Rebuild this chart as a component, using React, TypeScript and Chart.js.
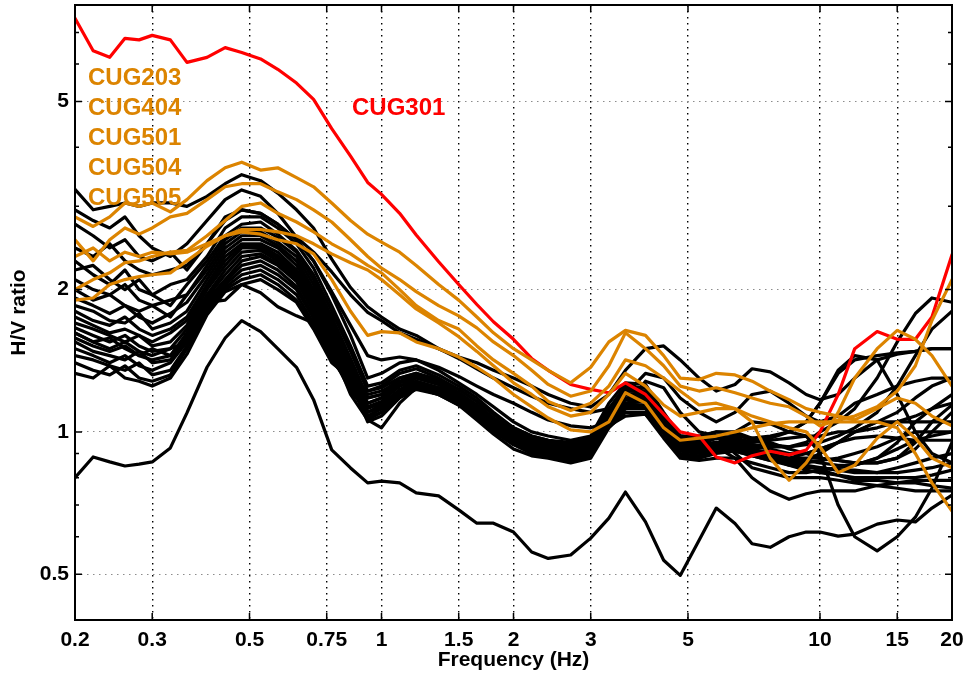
import React, { useEffect, useRef } from 'react';
import { Chart, registerables } from 'chart.js';

Chart.register(...registerables);

const FONT = '"Liberation Sans", Arial, Helvetica, sans-serif';
const ORANGE = '#dc8400';
const RED = '#ff0000';
const BLACK = '#000000';

// Frequency samples shared by every H/V curve (Hz)
const FREQ_HZ = [
  0.2, 0.22, 0.24, 0.26, 0.28, 0.3, 0.33, 0.36, 0.4, 0.44, 0.48, 0.53, 0.58, 0.64, 0.7, 0.77, 0.85,
  0.93, 1.0, 1.1, 1.2, 1.35, 1.5, 1.65, 1.8, 2.0, 2.2, 2.4, 2.7, 3.0, 3.3, 3.6, 4.0, 4.4, 4.8, 5.3,
  5.8, 6.4, 7.0, 7.7, 8.5, 9.3,
  10, 11, 12, 13.5, 15, 16.5, 18, 20,
];

const X_TICKS = [0.2, 0.3, 0.5, 0.75, 1, 1.5, 2, 3, 5, 10, 15, 20];
const Y_TICKS = [0.5, 1, 2, 5];
const Y_MINOR = [0.4, 0.6, 0.7, 0.8, 0.9, 3, 4, 6, 7, 8];

// Highlighted station: CUG301
const CUG301 = [
  7.5, 6.4, 6.2, 6.8, 6.75, 6.9, 6.75, 6.05, 6.2, 6.5, 6.35, 6.15, 5.85, 5.47, 5.05, 4.38, 3.83,
  3.37, 3.18, 2.9, 2.61, 2.29, 2.05, 1.86, 1.71, 1.57, 1.43, 1.35, 1.26, 1.23, 1.21, 1.27, 1.2, 1.09, 1.0, 0.98, 0.885, 0.86, 0.89, 0.91, 0.894, 0.915,
  1.0, 1.2, 1.5, 1.63, 1.57, 1.57, 1.75, 2.37,
];

// Highlighted stations drawn in orange
const CUG203 = [
  2.85, 2.72, 2.85, 3.05, 3.0, 3.05, 2.92, 3.1, 3.4, 3.62, 3.72, 3.58, 3.62, 3.45, 3.3, 3.05, 2.8,
  2.62, 2.52, 2.4, 2.25, 2.05, 1.9, 1.75, 1.62, 1.5, 1.42, 1.35, 1.27, 1.37, 1.55, 1.64, 1.6, 1.45, 1.3, 1.29, 1.33, 1.32, 1.28, 1.22, 1.17, 1.12,
  1.1, 1.08, 1.06, 1.12, 1.18, 1.15, 1.08, 1.03,
];
const CUG404 = [
  2.55, 2.3, 2.55, 2.7, 2.62, 2.7, 2.85, 2.9, 3.1, 3.3, 3.35, 3.35, 3.22, 3.1, 2.95, 2.78, 2.55,
  2.35, 2.22, 2.1, 1.98, 1.85, 1.76, 1.66, 1.55, 1.45, 1.35, 1.26, 1.19, 1.22, 1.38, 1.62, 1.5, 1.38, 1.25, 1.22, 1.24, 1.21, 1.18, 1.15, 1.13, 1.08,
  1.03, 1.06, 1.08, 1.13, 1.22, 1.38, 1.72, 2.1,
];
const CUG501 = [
  2.0, 2.1, 2.17, 2.28, 2.3, 2.35, 2.4, 2.42, 2.6, 2.8, 3.0, 3.05, 2.9, 2.78, 2.65, 2.5, 2.38,
  2.25, 2.17, 2.0, 1.85, 1.72, 1.65, 1.52, 1.42, 1.33, 1.25, 1.16, 1.11, 1.15, 1.25, 1.42, 1.38, 1.3, 1.22, 1.14, 1.15, 1.12, 1.05, 0.88, 0.79, 0.86,
  0.95, 1.1, 1.3, 1.5, 1.64, 1.57, 1.45, 1.25,
];
const CUG504 = [
  1.9, 1.92, 2.05, 2.1, 2.13, 2.15, 2.17, 2.3, 2.47, 2.6, 2.68, 2.68, 2.65, 2.6, 2.5, 2.38, 2.28,
  2.2, 2.1, 1.95, 1.82, 1.7, 1.59, 1.48, 1.38, 1.27, 1.2, 1.13, 1.08, 1.1, 1.2, 1.33, 1.25, 1.14, 1.08, 1.1, 1.12, 1.12, 1.08, 1.05, 1.02, 1.0,
  0.93, 0.82, 0.85, 0.97, 1.05, 0.97, 0.88, 0.84,
];
const CUG505 = [
  2.35, 2.45, 2.3, 2.4, 2.35, 2.4, 2.38, 2.4, 2.5, 2.6, 2.65, 2.62, 2.55, 2.5, 2.38, 2.1, 1.8,
  1.6, 1.63, 1.62, 1.55, 1.5, 1.44, 1.37, 1.3, 1.2, 1.13, 1.07, 1.01, 1.0, 1.05, 1.21, 1.15, 1.02, 0.96, 0.97, 0.98, 1.0, 1.02, 1.04, 1.05, 1.05,
  1.05, 1.05, 1.05, 1.05, 1.02, 0.9, 0.78, 0.68,
];

// Remaining stations (black)
const SITE_A = [
  3.26, 2.95, 3.0, 3.05, 3.0, 3.05, 3.05, 3.0, 3.15, 3.35, 3.5, 3.4, 3.2, 2.95, 2.7, 2.32, 2.02,
  1.84, 1.75, 1.65, 1.6, 1.5, 1.44, 1.4, 1.35, 1.3, 1.25, 1.2, 1.15, 1.13, 1.2, 1.35, 1.5, 1.52, 1.42, 1.3, 1.22, 1.26, 1.36, 1.34, 1.27, 1.2,
  1.17, 1.2, 1.3, 1.42, 1.46, 1.48, 1.5, 1.5,
];
const SITE_B = [
  2.95, 2.8, 2.7, 2.85, 2.6, 2.45, 2.35, 2.5, 2.8, 3.1, 3.25, 3.15, 2.9, 2.58, 2.4, 2.18, 1.95,
  1.79, 1.72, 1.62, 1.57, 1.5, 1.43, 1.36, 1.3, 1.24, 1.19, 1.15, 1.12, 1.1, 1.12, 1.2, 1.33, 1.3, 1.18, 1.1, 1.05, 1.1, 1.2, 1.22, 1.15, 1.08,
  1.05, 1.08, 1.15, 1.2, 1.25, 1.28, 1.3, 1.3,
];
const SITE_C = [
  2.75, 2.6, 2.45, 2.55, 2.35, 2.3, 2.4, 2.2, 2.5, 2.8, 2.95, 2.9, 2.75, 2.55, 2.3, 1.98, 1.68,
  1.45, 1.42, 1.44, 1.42, 1.37, 1.31, 1.25, 1.2, 1.15, 1.1, 1.06, 1.03, 1.02, 1.05, 1.13, 1.28, 1.24, 1.1, 1.0, 0.98, 1.0, 1.05, 1.04, 1.0, 0.98,
  0.98, 1.0, 1.0, 1.02, 1.05, 1.08, 1.12, 1.15,
];
const SITE_D = [
  2.45, 2.35, 2.5, 2.3, 2.2, 2.15, 2.2, 2.25, 2.5, 2.85, 2.95, 2.9, 2.75, 2.55, 2.3, 1.95, 1.6,
  1.3, 1.33, 1.4, 1.42, 1.35, 1.27, 1.2, 1.13, 1.05, 1.0, 0.98, 0.96, 0.98, 1.15, 1.27, 1.26, 1.1, 0.98, 0.97, 1.0, 0.99, 0.96, 0.94, 0.93, 0.95,
  1.0, 1.05, 1.12, 1.3, 1.55, 1.78, 1.92, 1.88,
];
const SITE_E = [
  2.3, 2.15, 2.05, 2.2, 2.0, 1.95, 2.05, 2.1, 2.35, 2.7, 2.85, 2.85, 2.7, 2.5, 2.22, 1.85, 1.52,
  1.25, 1.27, 1.35, 1.38, 1.32, 1.25, 1.18, 1.1, 1.02, 0.98, 0.96, 0.95, 0.97, 1.12, 1.22, 1.24, 1.09, 0.97, 0.95, 0.97, 0.96, 0.94, 0.93, 0.93, 0.94,
  0.95, 0.98, 1.02, 1.1, 1.25, 1.45, 1.65, 1.8,
];
const SITE_F = [
  2.2, 2.25, 2.1, 2.0, 2.1, 1.95, 1.85, 2.05, 2.3, 2.6, 2.75, 2.78, 2.62, 2.42, 2.15, 1.8, 1.48,
  1.22, 1.25, 1.33, 1.36, 1.3, 1.23, 1.16, 1.09, 1.01, 0.97, 0.95, 0.94, 0.96, 1.11, 1.2, 1.21, 1.07, 0.96, 0.94, 0.97, 0.98, 0.97, 0.98, 1.0, 1.05,
  1.15, 1.33, 1.42, 1.45, 1.47, 1.48, 1.5, 1.5,
];
const SITE_G = [
  2.1, 2.0, 1.95, 2.05, 1.9, 1.85, 1.9, 1.95, 2.25, 2.55, 2.7, 2.7, 2.58, 2.4, 2.1, 1.75, 1.43,
  1.18, 1.2, 1.3, 1.33, 1.28, 1.21, 1.14, 1.07, 1.0, 0.96, 0.94, 0.93, 0.95, 1.1, 1.18, 1.19, 1.06, 0.95, 0.95, 0.98, 0.97, 0.95, 0.97, 1.0, 1.05,
  1.15, 1.35, 1.45, 1.42, 1.2, 1.0, 0.9, 0.86,
];
const SITE_H = [
  2.0, 1.9, 1.95, 1.85, 1.8, 1.85, 1.75, 1.95, 2.2, 2.5, 2.65, 2.65, 2.52, 2.35, 2.05, 1.72, 1.4,
  1.15, 1.18, 1.27, 1.31, 1.27, 1.2, 1.13, 1.06, 0.99, 0.95, 0.93, 0.92, 0.94, 1.09, 1.17, 1.17, 1.04, 0.94, 0.93, 0.95, 0.96, 0.95, 0.96, 0.97, 0.98,
  0.9, 0.7, 0.6, 0.56, 0.6, 0.66, 0.76, 0.95,
];
const SITE_I = [
  1.92, 1.85, 1.78, 1.85, 1.75, 1.7, 1.78, 1.88, 2.15, 2.45, 2.6, 2.6, 2.48, 2.3, 2.0, 1.68, 1.38,
  1.13, 1.16, 1.25, 1.3, 1.26, 1.19, 1.12, 1.05, 0.98, 0.94, 0.92, 0.91, 0.93, 1.07, 1.15, 1.16, 1.03, 0.93, 0.92, 0.94, 0.95, 0.93, 0.92, 0.9, 0.9,
  0.92, 0.95, 1.0, 1.05, 1.1, 1.18, 1.25, 1.3,
];
const SITE_J = [
  1.85, 1.8, 1.72, 1.7, 1.78, 1.65, 1.7, 1.8, 2.1, 2.4, 2.55, 2.55, 2.45, 2.25, 1.98, 1.65, 1.35,
  1.1, 1.14, 1.23, 1.28, 1.24, 1.18, 1.11, 1.04, 0.97, 0.93, 0.91, 0.9, 0.92, 1.06, 1.13, 1.14, 1.02, 0.92, 0.91, 0.93, 0.94, 0.92, 0.9, 0.88, 0.87,
  0.86, 0.85, 0.85, 0.88, 0.95, 1.05, 1.12, 1.2,
];
const SITE_K = [
  1.8, 1.72, 1.68, 1.75, 1.65, 1.6, 1.65, 1.75, 2.05, 2.35, 2.5, 2.5, 2.4, 2.2, 1.95, 1.62, 1.32,
  1.08, 1.12, 1.22, 1.27, 1.23, 1.17, 1.1, 1.03, 0.96, 0.92, 0.9, 0.89, 0.91, 1.05, 1.12, 1.12, 1.01, 0.91, 0.9, 0.92, 0.93, 0.91, 0.89, 0.88, 0.88,
  0.88, 0.87, 0.86, 0.86, 0.88, 0.95, 1.05, 1.14,
];
const SITE_L = [
  1.75, 1.68, 1.62, 1.65, 1.6, 1.55, 1.62, 1.72, 2.03, 2.3, 2.48, 2.48, 2.36, 2.18, 1.92, 1.58, 1.3,
  1.06, 1.1, 1.2, 1.25, 1.22, 1.16, 1.09, 1.02, 0.95, 0.91, 0.9, 0.88, 0.9, 1.04, 1.1, 1.1, 1.0, 0.9, 0.89, 0.91, 0.92, 0.9, 0.88, 0.87, 0.87,
  0.9, 0.95, 1.0, 1.05, 1.05, 1.05, 1.05, 1.05,
];
const SITE_M = [
  1.7, 1.65, 1.6, 1.55, 1.6, 1.52, 1.55, 1.68, 2.0, 2.25, 2.45, 2.45, 2.33, 2.15, 1.88, 1.55, 1.28,
  1.05, 1.08, 1.18, 1.23, 1.2, 1.15, 1.08, 1.01, 0.94, 0.9, 0.89, 0.87, 0.89, 1.03, 1.08, 1.09, 0.99, 0.89, 0.88, 0.9, 0.91, 0.89, 0.87, 0.86, 0.86,
  0.87, 0.88, 0.9, 0.93, 0.97, 1.0, 1.0, 1.0,
];
const SITE_N = [
  1.66, 1.6, 1.55, 1.6, 1.52, 1.48, 1.5, 1.65, 1.95, 2.2, 2.4, 2.42, 2.3, 2.12, 1.85, 1.52, 1.26,
  1.07, 1.1, 1.19, 1.24, 1.21, 1.15, 1.08, 1.01, 0.95, 0.92, 0.9, 0.89, 0.9, 1.04, 1.12, 1.14, 1.02, 0.92, 0.93, 0.95, 0.93, 0.9, 0.89, 0.88, 0.9,
  0.92, 0.95, 0.97, 0.98, 0.97, 0.96, 0.96, 0.96,
];
const SITE_O = [
  1.62, 1.55, 1.58, 1.5, 1.45, 1.5, 1.45, 1.62, 1.93, 2.15, 2.35, 2.38, 2.27, 2.1, 1.82, 1.5, 1.25,
  1.08, 1.12, 1.2, 1.25, 1.21, 1.15, 1.08, 1.01, 0.95, 0.92, 0.9, 0.89, 0.91, 1.06, 1.15, 1.16, 1.04, 0.93, 0.92, 0.93, 0.92, 0.9, 0.88, 0.86, 0.85,
  0.84, 0.83, 0.82, 0.82, 0.84, 0.86, 0.88, 0.9,
];
const SITE_P = [
  1.58, 1.52, 1.48, 1.52, 1.45, 1.42, 1.45, 1.6, 1.9, 2.1, 2.3, 2.35, 2.25, 2.08, 1.8, 1.48, 1.22,
  1.1, 1.13, 1.2, 1.24, 1.2, 1.14, 1.07, 1.0, 0.94, 0.91, 0.89, 0.88, 0.9, 1.05, 1.14, 1.14, 1.02, 0.92, 0.91, 0.92, 0.91, 0.89, 0.87, 0.85, 0.84,
  0.84, 0.83, 0.83, 0.82, 0.82, 0.83, 0.84, 0.86,
];
const SITE_Q = [
  1.55, 1.48, 1.45, 1.42, 1.48, 1.4, 1.42, 1.58, 1.87, 2.08, 2.25, 2.3, 2.2, 2.03, 1.76, 1.45, 1.22,
  1.12, 1.15, 1.22, 1.26, 1.22, 1.16, 1.09, 1.02, 0.96, 0.93, 0.91, 0.9, 0.92, 1.07, 1.17, 1.18, 1.05, 0.94, 0.92, 0.93, 0.92, 0.9, 0.88, 0.85, 0.83,
  0.82, 0.81, 0.8, 0.8, 0.8, 0.8, 0.81, 0.83,
];
const SITE_R = [
  1.5, 1.45, 1.4, 1.45, 1.38, 1.35, 1.4, 1.55, 1.85, 2.05, 2.2, 2.25, 2.15, 2.0, 1.74, 1.44, 1.24,
  1.15, 1.18, 1.25, 1.28, 1.24, 1.18, 1.11, 1.04, 0.98, 0.94, 0.92, 0.91, 0.93, 1.08, 1.2, 1.2, 1.06, 0.95, 0.94, 0.95, 0.94, 0.92, 0.9, 0.87, 0.85,
  0.83, 0.81, 0.79, 0.79, 0.78, 0.79, 0.79, 0.79,
];
const SITE_S = [
  1.45, 1.42, 1.38, 1.35, 1.4, 1.32, 1.35, 1.52, 1.83, 2.02, 2.15, 2.2, 2.1, 1.95, 1.7, 1.42, 1.26,
  1.18, 1.2, 1.27, 1.3, 1.26, 1.2, 1.13, 1.06, 0.99, 0.95, 0.93, 0.92, 0.94, 1.09, 1.22, 1.22, 1.08, 0.97, 0.96, 0.93, 0.88, 0.8, 0.75, 0.72, 0.74,
  0.75, 0.75, 0.75, 0.77, 0.78, 0.78, 0.77, 0.76,
];
const SITE_T = [
  1.4, 1.35, 1.32, 1.38, 1.3, 1.28, 1.32, 1.5, 1.8, 2.0, 2.1, 2.15, 2.05, 1.9, 1.68, 1.42, 1.28,
  1.2, 1.22, 1.28, 1.32, 1.27, 1.21, 1.14, 1.07, 1.0, 0.96, 0.94, 0.93, 0.95, 1.1, 1.23, 1.24, 1.09, 0.98, 0.97, 0.98, 0.9, 0.84, 0.82, 0.8, 0.8,
  0.8, 0.79, 0.78, 0.77, 0.76, 0.75, 0.75, 0.75,
];
const SITE_U = [
  1.33, 1.3, 1.38, 1.3, 1.28, 1.25, 1.3, 1.46, 1.77, 1.98, 2.05, 2.1, 2.0, 1.88, 1.65, 1.4, 1.3,
  1.22, 1.24, 1.3, 1.33, 1.29, 1.23, 1.16, 1.09, 1.02, 0.98, 0.96, 0.94, 0.97, 1.12, 1.25, 1.24, 1.09, 0.98, 0.98, 1.0, 1.0, 0.97, 0.95, 0.92, 0.9,
  0.88, 0.87, 0.86, 0.86, 0.88, 0.92, 1.0, 1.1,
];
const SITE_V = [
  1.62, 1.55, 1.5, 1.55, 1.48, 1.45, 1.5, 1.55, 1.88, 1.9, 2.05, 1.97, 1.84, 1.76, 1.7, 1.5, 1.2,
  1.06, 1.02, 1.15, 1.24, 1.2, 1.14, 1.06, 0.99, 0.92, 0.89, 0.88, 0.86, 0.88, 1.02, 1.1, 1.09, 0.97, 0.88, 0.87, 0.88, 0.88, 0.86, 0.84, 0.82, 0.82,
  0.83, 0.84, 0.85, 0.88, 0.92, 0.96, 0.98, 1.0,
];
const SITE_W = [
  0.8, 0.885, 0.864, 0.847, 0.855, 0.864, 0.925, 1.097, 1.37, 1.58, 1.72, 1.63, 1.5, 1.37, 1.17, 0.916, 0.839,
  0.78, 0.787, 0.78, 0.743, 0.732, 0.684, 0.641, 0.641, 0.614, 0.557, 0.54, 0.549, 0.596, 0.657, 0.746, 0.645, 0.535, 0.497, 0.59, 0.69, 0.64, 0.58, 0.57, 0.6, 0.614,
  0.614, 0.602, 0.608, 0.638, 0.651, 0.645, 0.69, 0.735,
];

const ORANGE_NAMES = ['CUG203', 'CUG404', 'CUG501', 'CUG504', 'CUG505'];
const ORANGE_SITES = [CUG203, CUG404, CUG501, CUG504, CUG505];
const BLACK_SITES = [
  SITE_A, SITE_B, SITE_C, SITE_D, SITE_E, SITE_F, SITE_G, SITE_H, SITE_I, SITE_J, SITE_K, SITE_L,
  SITE_M, SITE_N, SITE_O, SITE_P, SITE_Q, SITE_R, SITE_S, SITE_T, SITE_U, SITE_V, SITE_W,
];

const toPoints = (vals: number[]) => FREQ_HZ.map((f, i) => ({ x: f, y: vals[i] }));

const lineStyle = (color: string) => ({
  borderColor: color,
  borderWidth: 3.2,
  pointRadius: 0,
  tension: 0,
  fill: false,
  borderJoinStyle: 'round' as const,
  borderCapStyle: 'round' as const,
});

// Axis frame with inward ticks, plus the station name annotations
const framePlugin = {
  id: 'hvFrame',
  afterDatasetsDraw(chart: any) {
    const { ctx, chartArea: a } = chart;
    const xs = chart.scales.x;
    const ys = chart.scales.y;
    ctx.save();
    ctx.strokeStyle = BLACK;
    ctx.lineWidth = 1.5;
    ctx.beginPath();
    for (const v of X_TICKS) {
      const px = xs.getPixelForValue(v);
      ctx.moveTo(px, a.bottom);
      ctx.lineTo(px, a.bottom - 7);
      ctx.moveTo(px, a.top);
      ctx.lineTo(px, a.top + 7);
    }
    for (const v of Y_TICKS) {
      const py = ys.getPixelForValue(v);
      ctx.moveTo(a.left, py);
      ctx.lineTo(a.left + 7, py);
      ctx.moveTo(a.right, py);
      ctx.lineTo(a.right - 7, py);
    }
    for (const v of Y_MINOR) {
      const py = ys.getPixelForValue(v);
      ctx.moveTo(a.left, py);
      ctx.lineTo(a.left + 4, py);
      ctx.moveTo(a.right, py);
      ctx.lineTo(a.right - 4, py);
    }
    ctx.stroke();
    ctx.lineWidth = 2;
    ctx.strokeRect(a.left, a.top, a.right - a.left, a.bottom - a.top);

    ctx.font = `bold 24px ${FONT}`;
    ctx.textAlign = 'left';
    ctx.textBaseline = 'middle';
    ctx.fillStyle = ORANGE;
    ORANGE_NAMES.forEach((name, i) => ctx.fillText(name, a.left + 13, a.top + 73 + i * 30));
    ctx.fillStyle = RED;
    ctx.fillText('CUG301', a.left + 277, a.top + 103);
    ctx.restore();
  },
};

export default function App() {
  const canvasRef = useRef<HTMLCanvasElement | null>(null);

  useEffect(() => {
    if (!canvasRef.current) return;
    const tickFont = { family: FONT, size: 21, weight: 'bold' as const };

    const datasets = [
      ...ORANGE_SITES.map((vals, i) => ({ label: ORANGE_NAMES[i], data: toPoints(vals), ...lineStyle(ORANGE) })),
      { label: 'CUG301', data: toPoints(CUG301), ...lineStyle(RED) },
      ...BLACK_SITES.map((vals, i) => ({ label: `site${i + 1}`, data: toPoints(vals), ...lineStyle(BLACK) })),
    ];

    const chart = new Chart(canvasRef.current, {
      type: 'line',
      data: { datasets },
      options: {
        animation: false,
        responsive: false,
        devicePixelRatio: 1,
        layout: { padding: { left: 0, right: 13, top: 5, bottom: 0 } },
        plugins: { legend: { display: false }, tooltip: { enabled: false } },
        scales: {
          x: {
            type: 'logarithmic',
            min: 0.2,
            max: 20,
            afterBuildTicks: (s: any) => {
              s.ticks = X_TICKS.map((value) => ({ value }));
            },
            afterFit: (s: any) => {
              s.height = 56;
              s.paddingLeft = 0;
              s.paddingRight = 0;
            },
            ticks: {
              autoSkip: false,
              maxRotation: 0,
              padding: 8,
              color: BLACK,
              font: tickFont,
              callback: (v: any) => String(v),
            },
            grid: {
              drawTicks: false,
              lineWidth: 1.4,
              color: (c: any) =>
                c.tick && (c.tick.value === 0.2 || c.tick.value === 20) ? 'rgba(0,0,0,0)' : BLACK,
            },
            border: { display: false, dash: [1.5, 4.5] },
            title: {
              display: true,
              text: 'Frequency (Hz)',
              color: BLACK,
              font: tickFont,
              padding: { top: 0, bottom: 3 },
            },
          },
          y: {
            type: 'logarithmic',
            min: 0.4,
            max: 8,
            afterBuildTicks: (s: any) => {
              s.ticks = Y_TICKS.map((value) => ({ value }));
            },
            afterFit: (s: any) => {
              s.width = 75;
              s.paddingTop = 0;
              s.paddingBottom = 0;
            },
            ticks: {
              autoSkip: false,
              padding: 6,
              color: BLACK,
              font: tickFont,
              callback: (v: any) => String(v),
            },
            grid: { drawTicks: false, lineWidth: 1, color: '#8c8c8c' },
            border: { display: false, dash: [1.5, 4.5] },
            title: {
              display: true,
              text: 'H/V ratio',
              color: BLACK,
              font: tickFont,
              padding: { top: 7, bottom: 0 },
            },
          },
        },
      },
      plugins: [framePlugin],
    } as any);

    return () => chart.destroy();
  }, []);

  return (
    <canvas
      ref={canvasRef}
      width={965}
      height={676}
      style={{ position: 'fixed', left: 0, top: 0, width: 965, height: 676, background: '#fff' }}
    />
  );
}
